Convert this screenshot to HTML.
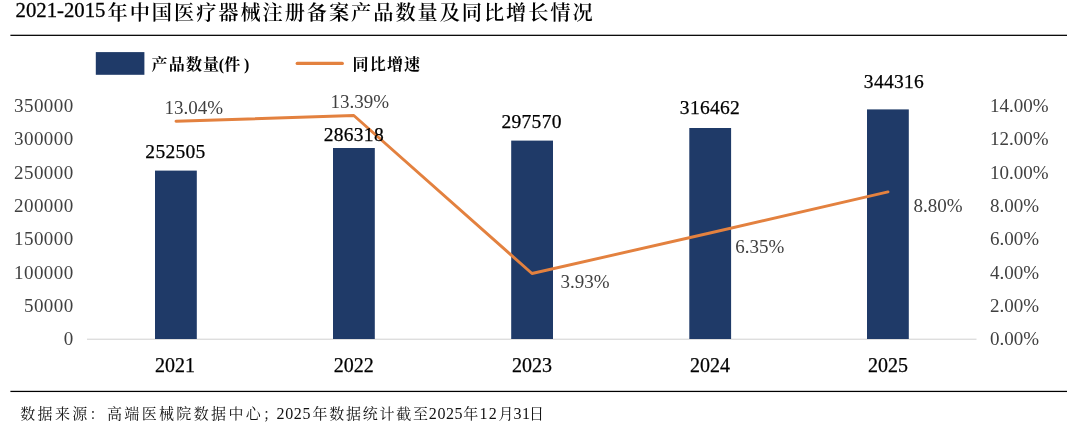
<!DOCTYPE html>
<html lang="zh-CN">
<head>
<meta charset="utf-8">
<title>2021-2015年中国医疗器械注册备案产品数量及同比增长情况</title>
<style>
html,body{margin:0;padding:0;background:#fff;}
body{width:1080px;height:424px;overflow:hidden;position:relative;}
svg{position:absolute;left:0;top:0;display:block;}
text{font-family:"Liberation Serif","Noto Serif CJK SC",serif;}
.title{font-size:21px;font-weight:400;fill:#000;stroke:#000;stroke-width:0.3px;}
.title .cj{font-size:20.2px;font-weight:600;letter-spacing:1.95px;stroke:none;}
.leg{font-size:16px;font-weight:700;fill:#000;letter-spacing:1.15px;}
.ax{font-size:19px;fill:#404040;}
.axl{letter-spacing:0.42px;}
.cat{font-size:20px;fill:#000;stroke:#000;stroke-width:0.25px;}
.bv{font-size:19.5px;fill:#000;letter-spacing:0.3px;stroke:#000;stroke-width:0.25px;}
.lv{font-size:19px;fill:#404040;}
.foot{font-size:15px;fill:#111;letter-spacing:2.35px;}
.foot .n{letter-spacing:0.6px;font-size:16px}
.foot .s2{letter-spacing:1.75px;}
</style>
</head>
<body>
<svg width="1080" height="424" viewBox="0 0 1080 424">
  <rect x="0" y="0" width="1080" height="424" fill="#ffffff"/>
  <!-- title -->
  <text class="title" x="15.5" y="17.3"><tspan textLength="90" lengthAdjust="spacingAndGlyphs">2021-2015</tspan><tspan class="cj" x="107.6" dy="2.8">年中国医疗器械注册备案产品数量及同比增长情况</tspan></text>
  <rect x="10.4" y="34.7" width="1056.6" height="1.25" fill="#000"/>
  <!-- legend -->
  <rect x="95.8" y="52.1" width="48.6" height="22.7" fill="#1f3a68"/>
  <text class="leg" y="70"><tspan x="151.6">产品数量</tspan><tspan x="218.8">(</tspan><tspan x="224.2">件</tspan><tspan x="244">)</tspan></text>
  <line x1="297.2" y1="63.4" x2="342.3" y2="63.4" stroke="#e3813f" stroke-width="3.2" stroke-linecap="round"/>
  <text class="leg" x="352.6" y="70">同比增速</text>
  <!-- left axis -->
  <g class="ax axl" text-anchor="end">
    <text x="73.6" y="111.8">350000</text>
    <text x="73.6" y="145.1">300000</text>
    <text x="73.6" y="178.5">250000</text>
    <text x="73.6" y="211.8">200000</text>
    <text x="73.6" y="245.2">150000</text>
    <text x="73.6" y="278.5">100000</text>
    <text x="73.6" y="311.8">50000</text>
    <text x="73.6" y="345.2">0</text>
  </g>
  <!-- right axis -->
  <g class="ax">
    <text x="990" y="111.8">14.00%</text>
    <text x="990" y="145.1">12.00%</text>
    <text x="990" y="178.5">10.00%</text>
    <text x="990" y="211.8">8.00%</text>
    <text x="990" y="245.2">6.00%</text>
    <text x="990" y="278.5">4.00%</text>
    <text x="990" y="311.8">2.00%</text>
    <text x="990" y="345.2">0.00%</text>
  </g>
  <!-- axis line -->
  <rect x="87" y="338.7" width="889.5" height="1" fill="#d0d0d0"/>
  <!-- bars -->
  <g fill="#1f3a68">
    <rect x="155" y="170.6" width="41.8" height="168.4"/>
    <rect x="333" y="148" width="41.8" height="191"/>
    <rect x="511.2" y="140.6" width="41.8" height="198.4"/>
    <rect x="689.3" y="128" width="41.8" height="211"/>
    <rect x="867" y="109.4" width="41.8" height="229.6"/>
  </g>
  <!-- line -->
  <polyline points="176,121.3 353.8,115.5 532,273.5 710,233 888,191.9" fill="none" stroke="#e3813f" stroke-width="2.9" stroke-linecap="round" stroke-linejoin="round"/>
  <!-- bar values -->
  <g class="bv" text-anchor="middle">
    <text x="175.5" y="157.5">252505</text>
    <text x="353.8" y="140.9">286318</text>
    <text x="531.6" y="127.5">297570</text>
    <text x="710" y="114.2">316462</text>
    <text x="894" y="88.2">344316</text>
  </g>
  <!-- line values -->
  <g class="lv">
    <text x="164.4" y="114.1">13.04%</text>
    <text x="330.4" y="107.6">13.39%</text>
    <text x="560.4" y="288.1">3.93%</text>
    <text x="735.3" y="252.8">6.35%</text>
    <text x="913.5" y="211.7">8.80%</text>
  </g>
  <!-- categories -->
  <g class="cat" text-anchor="middle">
    <text x="175" y="372">2021</text>
    <text x="353.7" y="372">2022</text>
    <text x="532" y="372">2023</text>
    <text x="710" y="372">2024</text>
    <text x="888" y="372">2025</text>
  </g>
  <!-- bottom rule -->
  <rect x="10.4" y="390.8" width="1056.6" height="1.25" fill="#000"/>
  <text class="foot" y="419.4"><tspan x="20.2">数据来源：高端医械院数据中心；</tspan><tspan class="n" x="276.6">2025</tspan><tspan class="s2" x="312.5">年数据统计截至</tspan><tspan class="n" x="428.8">2025</tspan><tspan x="463.2">年</tspan><tspan class="n" x="479.6" style="letter-spacing:1.2px">12</tspan><tspan x="498.6">月</tspan><tspan class="n" x="513.4">31</tspan><tspan x="529">日</tspan></text>
</svg>
</body>
</html>
